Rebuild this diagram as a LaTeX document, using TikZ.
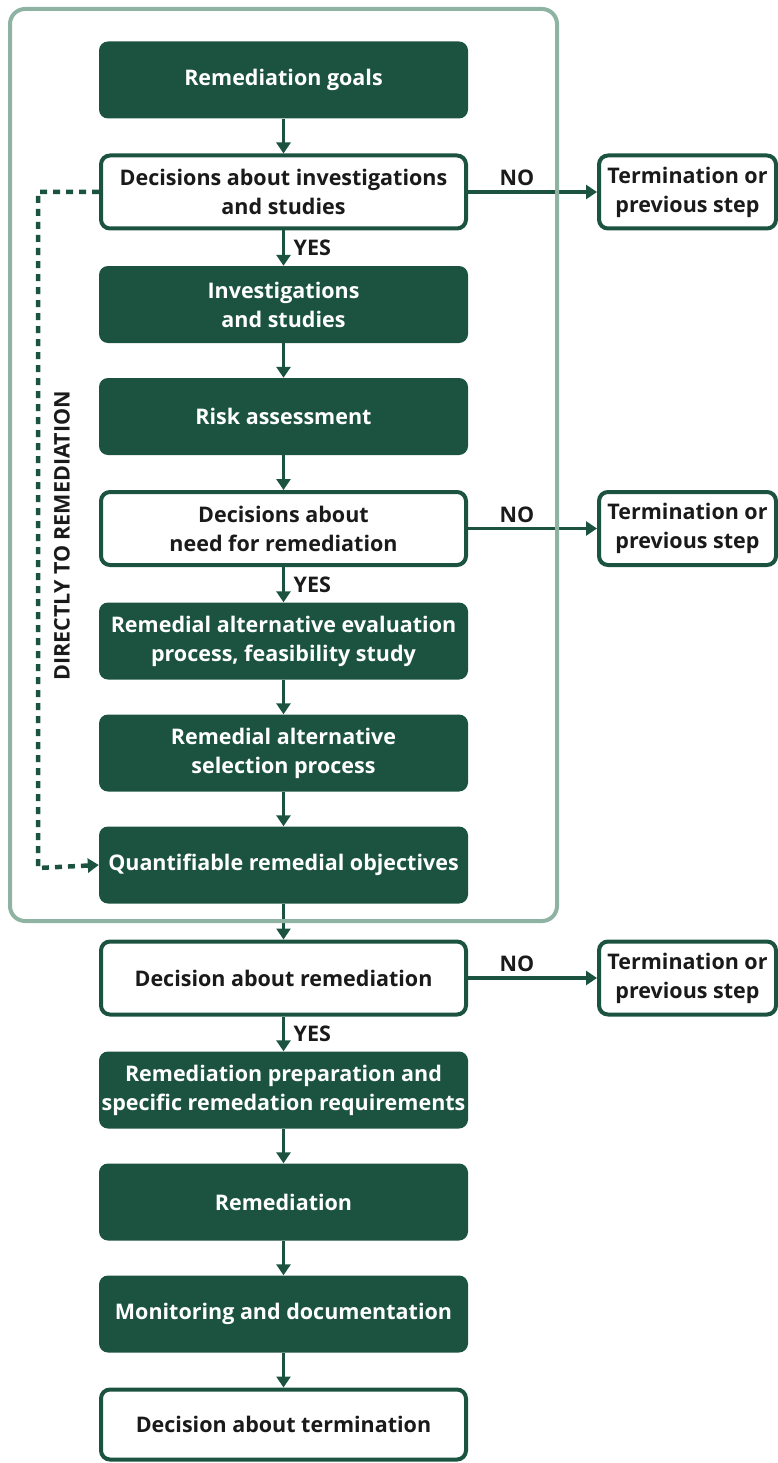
\documentclass[tikz,border=0pt]{standalone}
\usepackage{fontspec}
\setmainfont{Open Sans}
\usetikzlibrary{arrows.meta}
\definecolor{dg}{HTML}{1B5340}
\definecolor{fr}{HTML}{8FB3A3}
\definecolor{tx}{HTML}{1A1A1A}
\begin{document}
\begin{tikzpicture}[x=1pt,y=-1pt,
  base/.style={rounded corners=9pt,minimum width=369pt,minimum height=77pt,align=center,font=\fontsize{21.5}{29}\selectfont\bfseries,inner sep=0pt},
  fillbox/.style={base,fill=dg,text=white},
  decbox/.style={base,draw=dg,line width=4pt,fill=white,text=tx,minimum width=365pt,minimum height=73pt},
  termbox/.style={base,draw=dg,line width=4pt,fill=white,text=tx,minimum width=177pt,minimum height=73pt},
  arr/.style={draw=dg,line width=3.5pt,-{Triangle[length=11pt,width=14pt]}},
  lab/.style={font=\fontsize{21.5}{24}\selectfont\bfseries,text=tx}]
\useasboundingbox (0,0) rectangle (778,1463);
\node[fillbox] (n1) at (283.5,80) {Remediation goals};
\node[decbox] (n2) at (283.5,192) {Decisions about investigations\\and studies};
\node[fillbox] (n3) at (283.5,304.5) {Investigations\\and studies};
\node[fillbox] (n4) at (283.5,416.5) {Risk assessment};
\node[decbox] (n5) at (283.5,528.5) {Decisions about\\need for remediation};
\node[fillbox] (n6) at (283.5,641) {Remedial alternative evaluation\\process, feasibility study};
\node[fillbox] (n7) at (283.5,753) {Remedial alternative\\selection process};
\node[fillbox] (n8) at (283.5,865) {Quantifiable remedial objectives};
\node[decbox] (n9) at (283.5,978) {Decision about remediation};
\node[fillbox] (n10) at (283.5,1090) {Remediation preparation and\\specific remedation requirements};
\node[fillbox] (n11) at (283.5,1202) {Remediation};
\node[fillbox] (n12) at (283.5,1314) {Monitoring and documentation};
\node[decbox,minimum height=70pt] (n13) at (283.5,1424.5) {Decision about termination};
\node[termbox] (t1) at (687.5,192) {Termination or\\previous step};
\node[termbox] (t2) at (687.5,528.5) {Termination or\\previous step};
\node[termbox] (t3) at (687.5,978) {Termination or\\previous step};
\draw[arr] (n1) -- (n2);
\draw[arr] (n2) -- node[lab,right=5pt]{YES} (n3);
\draw[arr] (n3) -- (n4);
\draw[arr] (n4) -- (n5);
\draw[arr] (n5) -- node[lab,right=5pt]{YES} (n6);
\draw[arr] (n6) -- (n7);
\draw[arr] (n7) -- (n8);
\draw[arr] (n8) -- (n9);
\draw[arr] (n9) -- node[lab,right=5pt]{YES} (n10);
\draw[arr] (n10) -- (n11);
\draw[arr] (n11) -- (n12);
\draw[arr] (n12) -- (n13);
\draw[arr] (n2) -- node[lab,above=1pt,pos=0.38]{NO} (t1);
\draw[arr] (n5) -- node[lab,above=1pt,pos=0.38]{NO} (t2);
\draw[arr] (n9) -- node[lab,above=1pt,pos=0.38]{NO} (t3);
\draw[fr,line width=4pt,rounded corners=15pt] (10,9) rectangle (557,921);
\coordinate (c1) at (38,192);
\coordinate (c2) at (38,868);
\draw[dg,line width=4.5pt,dash pattern=on 7pt off 6pt,-{Triangle[length=11pt,width=14pt]}] (n2.west) -- (c1) -- (c2) -- (n8.west);
\node[lab,rotate=90] (dl) at (62,536) {DIRECTLY TO REMEDIATION};
\end{tikzpicture}
\end{document}
